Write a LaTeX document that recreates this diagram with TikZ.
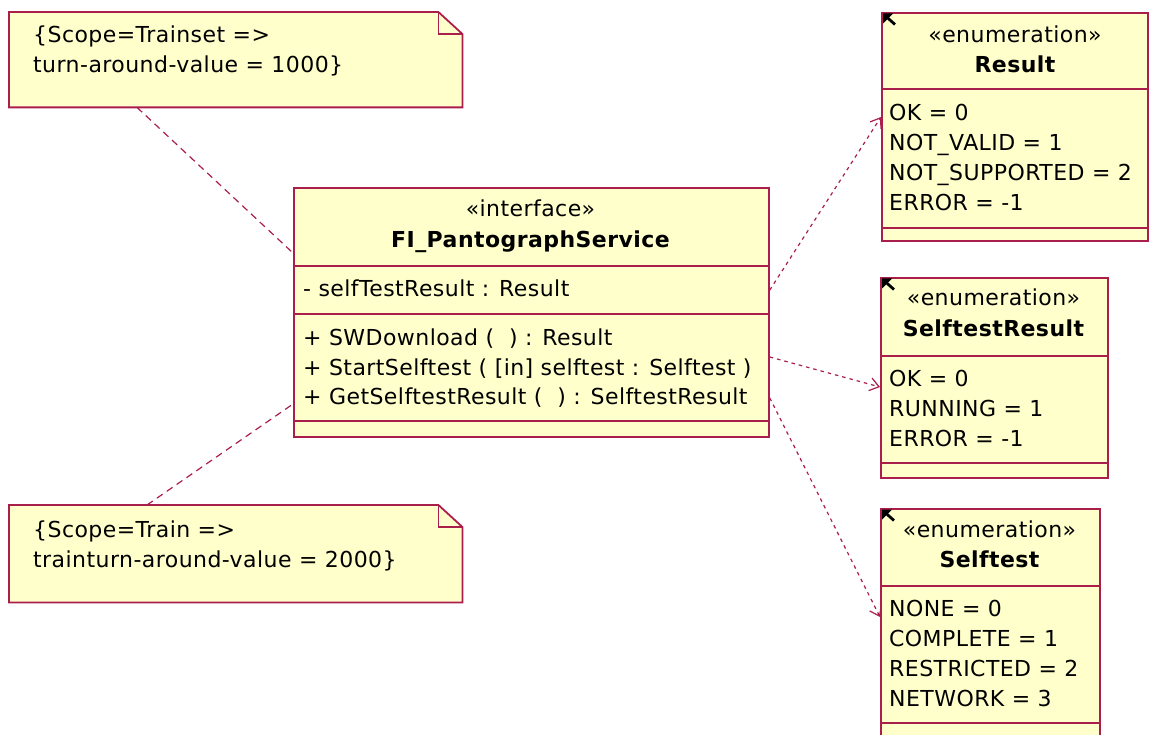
\documentclass[tikz,border=0pt]{standalone}
\usepackage{fontspec}
\setmainfont[LetterSpace=2]{DejaVu Sans}
\usetikzlibrary{arrows.meta,calc}
\definecolor{umlborder}{RGB}{170,30,75}
\definecolor{umlfill}{RGB}{255,255,204}
\begin{document}
\begin{tikzpicture}[x=1pt,y=-1pt,
  box/.style={draw=umlborder,fill=umlfill,line width=1.8pt,rectangle,inner sep=0pt,anchor=north west},
  notebox/.style={draw=none,rectangle,inner sep=0pt,anchor=north west},
  sep/.style={draw=umlborder,line width=1.8pt},
  noteline/.style={draw=umlborder,fill=umlfill,line width=1.8pt,line join=miter},
  txt/.style={anchor=base west,inner sep=0pt,font=\fontsize{22}{26}\selectfont},
  ctxt/.style={anchor=base,inner sep=0pt,font=\fontsize{22}{26}\selectfont},
  title/.style={anchor=base,inner sep=0pt,font=\fontsize{22}{26}\selectfont\bfseries},
  notelink/.style={draw=umlborder,line width=1.2pt,dash pattern=on 7pt off 5pt},
  deplink/.style={draw=umlborder,line width=1.2pt,dash pattern=on 3.5pt off 4pt,
    -{Straight Barb[length=9pt,width=13pt,line width=1.2pt]}},
  enumicon/.style={fill=black},
]
\useasboundingbox (0,0) rectangle (1149,735);
\fill[white] (0,0) rectangle (1149,735);
\clip (0,0) rectangle (1149,735);

% ---------- notes ----------
\node[notebox,minimum width=453pt,minimum height=95pt] (note1) at (9,12) {};
\node[notebox,minimum width=453pt,minimum height=97pt] (note2) at (9,505) {};
\foreach \n in {note1,note2}{
  \draw[noteline] (\n.north west) -- ([xshift=-24pt]\n.north east)
    -- ([yshift=-22pt]\n.north east) -- (\n.south east) -- (\n.south west) -- cycle;
  \draw[noteline,fill=none] ([xshift=-24pt]\n.north east) -- ([xshift=-24pt,yshift=-22pt]\n.north east)
    -- ([yshift=-22pt]\n.north east);
}
\node[txt] (n1a) at (33,43) {\{Scope=Trainset =>};
\node[txt] (n1b) at (33,73) {turn-around-value = 1000\}};
\node[txt] (n2a) at (33,537) {\{Scope=Train =>};
\node[txt] (n2b) at (33,567) {trainturn-around-value = 2000\}};

% ---------- interface class ----------
\node[box,minimum width=475pt,minimum height=249pt] (iface) at (293,187) {};
\draw[sep] (iface.west |- 0,266) -- (iface.east |- 0,266);
\draw[sep] (iface.west |- 0,314) -- (iface.east |- 0,314);
\draw[sep] (iface.west |- 0,421) -- (iface.east |- 0,421);
\node[ctxt] (ifst) at (530.5,217) {«interface»};
\node[title] (ifnm) at (530.5,248) {FI\_PantographService};
\node[txt] (ifa1) at (303,297) {- selfTestResult : Result};
\node[txt] (ifm1) at (303,346) {+ SWDownload (\ \ ) : Result};
\node[txt] (ifm2) at (303,375) {+ StartSelftest ( [in] selftest : Selftest )};
\node[txt] (ifm3) at (303,404) {+ GetSelftestResult (\ \ ) : SelftestResult};

% ---------- enumeration Result ----------
\node[box,minimum width=266pt,minimum height=228pt] (res) at (881,12) {};
\draw[sep] (res.west |- 0,89) -- (res.east |- 0,89);
\draw[sep] (res.west |- 0,228) -- (res.east |- 0,228);
\node[ctxt] (rst) at (1015,43) {«enumeration»};
\node[title] (rnm) at (1015,73) {Result};
\node[txt] (r1) at (889,121) {OK = 0};
\node[txt] (r2) at (889,151) {NOT\_VALID = 1};
\node[txt] (r3) at (889,181) {NOT\_SUPPORTED = 2};
\node[txt] (r4) at (889,211) {ERROR = -1};

% ---------- enumeration SelftestResult ----------
\node[box,minimum width=227pt,minimum height=200pt] (sres) at (880,277) {};
\draw[sep] (sres.west |- 0,356) -- (sres.east |- 0,356);
\draw[sep] (sres.west |- 0,463) -- (sres.east |- 0,463);
\node[ctxt] (sst) at (993.5,306) {«enumeration»};
\node[title] (snm) at (993.5,337) {SelftestResult};
\node[txt] (s1) at (889,386) {OK = 0};
\node[txt] (s2) at (889,416) {RUNNING = 1};
\node[txt] (s3) at (889,446) {ERROR = -1};

% ---------- enumeration Selftest ----------
\node[box,minimum width=219pt,minimum height=245pt] (stest) at (880,508) {};
\draw[sep] (stest.west |- 0,586) -- (stest.east |- 0,586);
\draw[sep] (stest.west |- 0,723) -- (stest.east |- 0,723);
\node[ctxt] (tst) at (989.5,537) {«enumeration»};
\node[title] (tnm) at (989.5,567) {Selftest};
\node[txt] (t1) at (889,616) {NONE = 0};
\node[txt] (t2) at (889,646) {COMPLETE = 1};
\node[txt] (t3) at (889,676) {RESTRICTED = 2};
\node[txt] (t4) at (889,706) {NETWORK = 3};

% enumeration markers in the top left corners
\foreach \e in {res,sres,stest}{
  \fill[enumicon] ([shift={(2,1.5)}]\e.north west) -- ++(10,0) -- ++(-10,10) -- cycle;
  \draw[black,line width=2.8pt] ([shift={(5,4.5)}]\e.north west) -- ++(9,8);
}

% ---------- connectors ----------
\draw[notelink] (note1.south -| 137,0) -- (iface.west |- 0,253);
\draw[notelink] (note2.north -| 147,0) -- (iface.west |- 0,404);
\draw[deplink] (iface.east |- 0,290) -- (res.west |- 0,117);
\draw[deplink] (iface.east |- 0,357) -- (sres.west |- 0,387);
\draw[deplink] (iface.east |- 0,398) -- (stest.west |- 0,617);
\end{tikzpicture}
\end{document}
